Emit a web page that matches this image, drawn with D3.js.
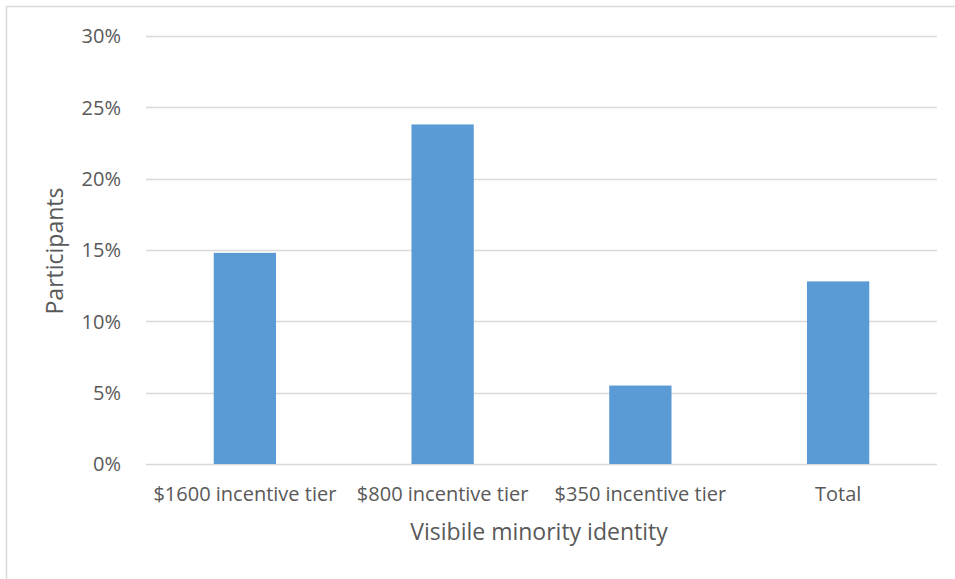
<!DOCTYPE html>
<html>
<head>
<meta charset="utf-8">
<script src="https://cdn.jsdelivr.net/npm/d3@7"></script>
<style>
  html, body { margin: 0; padding: 0; background: #fff; }
  svg text { font-family: "Open Sans", sans-serif; fill: #595959; }
</style>
</head>
<body>
<svg id="chart" width="955" height="579"></svg>
<script>
// Share of participants identifying as a visible minority, by incentive tier
const categories = ["$1600 incentive tier", "$800 incentive tier", "$350 incentive tier", "Total"];
const values = [0.148, 0.238, 0.055, 0.128];
const yTicks = [0, 0.05, 0.10, 0.15, 0.20, 0.25, 0.30];

const svg = d3.select("#chart");
const W = 955, H = 579;
const plot = { left: 146, right: 937, top: 36, bottom: 464 };

// chart frame
svg.append("rect")
  .attr("x", 6.5).attr("y", 6.5)
  .attr("width", W + 20).attr("height", H + 20)
  .attr("fill", "#fff").attr("stroke", "#d9d9d9").attr("stroke-width", 1.5);

const x = d3.scaleBand().domain(categories).range([plot.left, plot.right]).paddingInner(0.685).paddingOuter(0.3425);
const y = d3.scaleLinear().domain([0, 0.30]).range([plot.bottom, plot.top]);

// horizontal gridlines
svg.append("g").selectAll("line").data(yTicks).join("line")
  .attr("x1", plot.left).attr("x2", plot.right)
  .attr("y1", d => Math.round(y(d)) + 0.5).attr("y2", d => Math.round(y(d)) + 0.5)
  .attr("stroke", "#d9d9d9").attr("stroke-width", 1.3);

// y tick labels
svg.append("g").selectAll("text").data(yTicks).join("text")
  .attr("x", 121).attr("y", d => y(d))
  .attr("dy", "0.36em")
  .attr("text-anchor", "end")
  .style("font-size", "20px")
  .text(d3.format(".0%"));

// bars
svg.append("g").selectAll("rect").data(values).join("rect")
  .attr("x", (d, i) => x(categories[i]))
  .attr("width", x.bandwidth())
  .attr("y", d => y(d))
  .attr("height", d => y(0) - y(d))
  .attr("fill", "#5b9bd5");

// category labels
svg.append("g").selectAll("text").data(categories).join("text")
  .attr("x", d => x(d) + x.bandwidth() / 2)
  .attr("y", 501)
  .attr("text-anchor", "middle")
  .style("font-size", "20px")
  .text(d => d);

// axis titles
svg.append("text")
  .attr("x", 539).attr("y", 540)
  .attr("text-anchor", "middle")
  .style("font-size", "23px")
  .text("Visibile minority identity");

svg.append("text")
  .attr("transform", "translate(63,251) rotate(-90)")
  .attr("text-anchor", "middle")
  .style("font-size", "23px")
  .text("Participants");
</script>
</body>
</html>
